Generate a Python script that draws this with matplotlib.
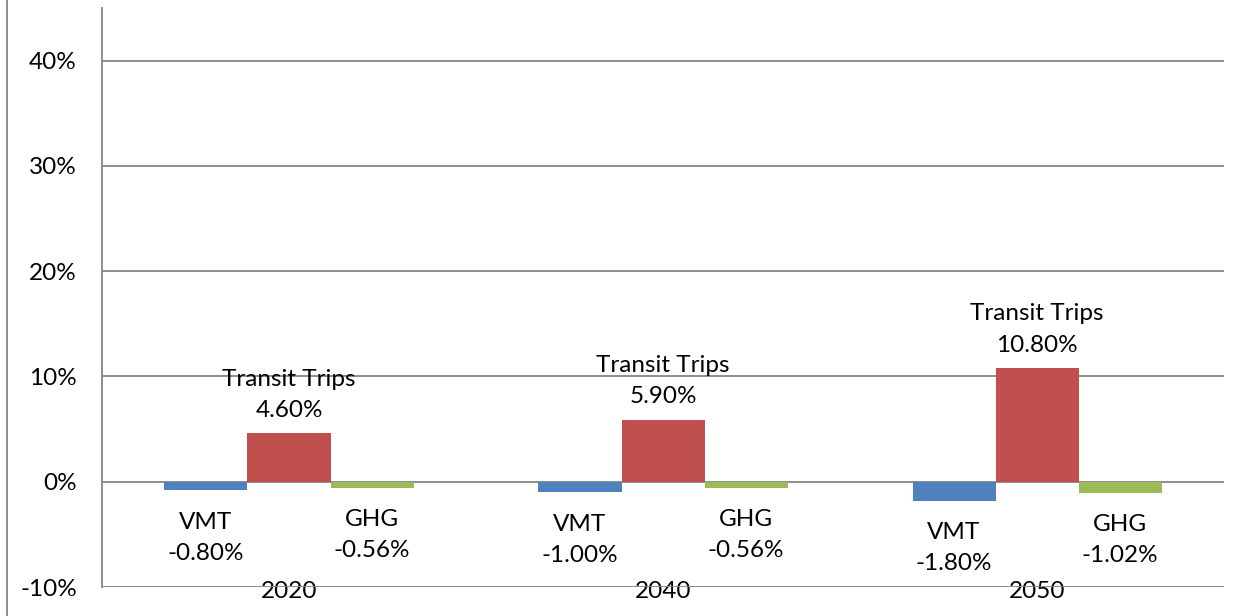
import numpy as np
import matplotlib.pyplot as plt
from matplotlib.lines import Line2D

years = ['2020', '2040', '2050']
series = ['VMT', 'Transit Trips', 'GHG']
vmt = [-0.80, -1.00, -1.80]
transit = [4.60, 5.90, 10.80]
ghg = [-0.56, -0.56, -1.02]
cores = ['#4F81BD', '#C0504D', '#9BBB59']
grid_cor = '#868686'

plt.rcParams['font.family'] = ['Lato', 'DejaVu Sans']
fs = 17.5

fig = plt.figure(figsize=(12.51, 6.16), dpi=100)
ax = fig.add_axes([0.0815, 0.047, 0.897, 0.94])

x = np.arange(len(years))
w = 0.222
for i, (nome, vals) in enumerate(zip(series, [vmt, transit, ghg])):
    pos = x + (i - 1) * w
    bars = ax.bar(pos, vals, width=w, color=cores[i], zorder=3)
    for b, v in zip(bars, vals):
        txt = '%s\n%.2f%%' % (nome, v)
        cx = b.get_x() + b.get_width() / 2
        if v >= 0:
            ax.annotate(txt, (cx, v), xytext=(0, 9), textcoords='offset points',
                        ha='center', va='bottom', linespacing=1.6, fontsize=fs)
        else:
            ax.annotate(txt, (cx, v), xytext=(0, -15.5), textcoords='offset points',
                        ha='center', va='top', linespacing=1.6, fontsize=fs)

ax.set_xlim(-0.5, 2.5)
ax.set_ylim(-10, 45)
ax.set_yticks([-10, 0, 10, 20, 30, 40])
ax.set_yticklabels(['-10%', '0%', '10%', '20%', '30%', '40%'])
ax.yaxis.grid(True, color=grid_cor, linewidth=1.3, zorder=0)
ax.set_xticks(x)
ax.set_xticklabels(years)
ax.tick_params(axis='x', length=0, pad=-4.5, labelsize=fs)
ax.tick_params(axis='y', length=0, pad=18, labelsize=fs)
for s in ['top', 'right', 'bottom']:
    ax.spines[s].set_visible(False)
ax.spines['left'].set_color(grid_cor)
ax.spines['left'].set_linewidth(1.3)

fig.add_artist(Line2D([0.0056, 0.0056], [0, 1], color=grid_cor, linewidth=1.3,
                      transform=fig.transFigure))

plt.savefig('out.png', dpi=100)
